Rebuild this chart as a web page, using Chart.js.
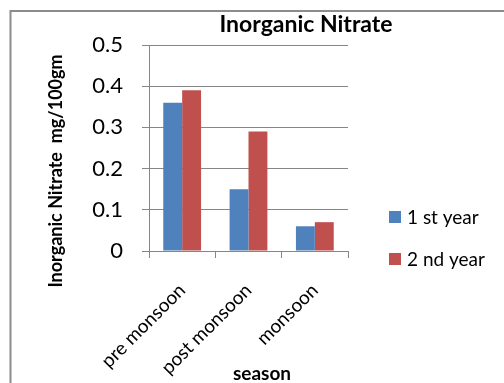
<!DOCTYPE html>
<html>
<head>
<meta charset="utf-8">
<script src="https://cdn.jsdelivr.net/npm/chart.js@4.4.1/dist/chart.umd.min.js"></script>
<style>
  html, body { margin: 0; padding: 0; background: #ffffff; }
  canvas { display: block; }
</style>
</head>
<body>
<canvas id="c" width="504" height="383"></canvas>
<script>
// Chart texts
const chartTitle = 'Inorganic Nitrate';
const yAxisTitle = 'Inorganic Nitrate  mg/100gm';
const xAxisTitle = 'season';

// Categories and series
const seasons = ['pre monsoon', 'post monsoon', 'monsoon'];
const seriesNames = ['1 st year', '2 nd year'];
const firstYear = [0.36, 0.15, 0.06];
const secondYear = [0.39, 0.29, 0.07];

// Value axis
const yMin = 0;
const yMax = 0.5;
const yStep = 0.1;

const seriesColors = ['#4F81BD', '#C0504D'];
const axisGray = '#868686';
const FONT = 'Lato, "Liberation Sans", sans-serif';

// Frame, title, axis titles and legend drawn around the plot
const decorations = {
  id: 'decorations',
  afterDraw(chart) {
    const ctx = chart.ctx;
    ctx.save();

    // outer frame (top and left edges)
    ctx.strokeStyle = '#8c8c8c';
    ctx.lineWidth = 2;
    ctx.beginPath();
    ctx.moveTo(10.5, chart.height);
    ctx.lineTo(10.5, 11);
    ctx.lineTo(chart.width, 11);
    ctx.stroke();

    ctx.fillStyle = '#000000';

    // chart title
    ctx.font = 'bold 23px ' + FONT;
    ctx.textAlign = 'center';
    ctx.textBaseline = 'alphabetic';
    ctx.fillText(chartTitle, 306, 32);

    // y axis title
    ctx.save();
    ctx.translate(62, 171);
    ctx.rotate(-Math.PI / 2);
    ctx.font = 'bold 18px ' + FONT;
    ctx.textAlign = 'center';
    ctx.textBaseline = 'alphabetic';
    ctx.fillText(yAxisTitle, 0, 0);
    ctx.restore();

    // x axis title
    ctx.font = 'bold 19px ' + FONT;
    ctx.textAlign = 'center';
    ctx.fillText(xAxisTitle, 262, 380);

    // legend
    const items = chart.data.datasets;
    ctx.font = '19px ' + FONT;
    ctx.textAlign = 'left';
    ctx.textBaseline = 'middle';
    items.forEach((ds, i) => {
      const cy = 217 + i * 42;
      ctx.fillStyle = ds.backgroundColor;
      ctx.fillRect(389, cy - 6, 12, 12);
      ctx.fillStyle = '#000000';
      ctx.fillText(ds.label, 407, cy + 1);
    });

    ctx.restore();
  }
};

new Chart(document.getElementById('c'), {
  type: 'bar',
  data: {
    labels: seasons,
    datasets: [
      { label: seriesNames[0], data: firstYear, backgroundColor: seriesColors[0], borderWidth: 0 },
      { label: seriesNames[1], data: secondYear, backgroundColor: seriesColors[1], borderWidth: 0 }
    ]
  },
  options: {
    responsive: false,
    animation: false,
    events: [],
    layout: { padding: { left: 0, top: 45, right: 156, bottom: 0 } },
    datasets: { bar: { categoryPercentage: 0.57, barPercentage: 1.0 } },
    plugins: {
      legend: { display: false },
      title: { display: false },
      tooltip: { enabled: false }
    },
    scales: {
      x: {
        afterFit(scale) { scale.height = 132; },
        grid: {
          display: true,
          drawOnChartArea: false,
          drawTicks: true,
          tickLength: 7,
          color: axisGray,
          offset: true
        },
        border: { display: true, color: axisGray, width: 1 },
        ticks: {
          color: '#000000',
          font: { family: FONT, size: 19 },
          minRotation: 45,
          maxRotation: 45,
          autoSkip: false,
          padding: 21
        }
      },
      y: {
        min: yMin,
        max: yMax,
        afterFit(scale) { scale.width = 149; },
        grid: {
          color: axisGray,
          tickLength: 7,
          drawTicks: true
        },
        border: { display: true, color: axisGray, width: 1 },
        ticks: {
          stepSize: yStep,
          color: '#000000',
          font: { family: FONT, size: 22 },
          padding: 19,
          callback: (v) => String(+v.toFixed(1))
        }
      }
    }
  },
  plugins: [decorations]
});
</script>
</body>
</html>
